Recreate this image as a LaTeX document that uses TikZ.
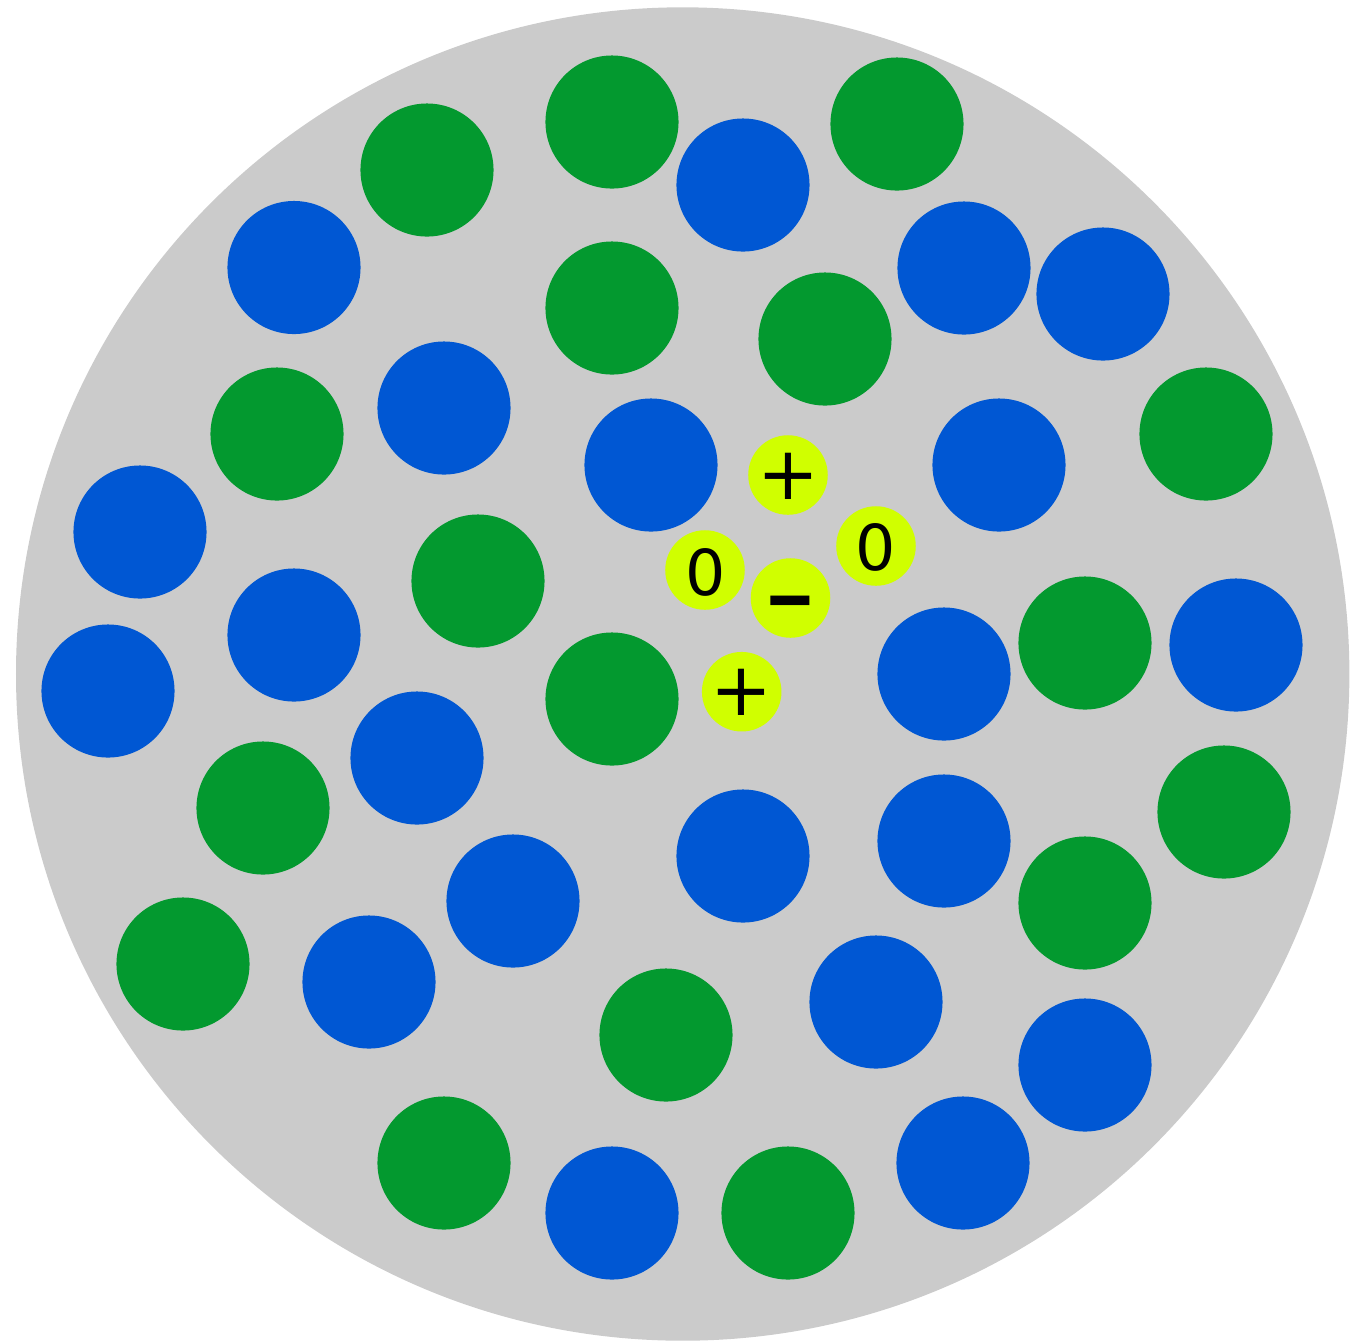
\documentclass[tikz,border=0pt]{standalone}
\usepackage{fontspec}
\usepackage{graphicx}
\setmainfont{DejaVu Sans}
\definecolor{bgray}{HTML}{CBCBCB}
\definecolor{cgreen}{HTML}{03992F}
\definecolor{cblue}{HTML}{0057D3}
\definecolor{cyel}{HTML}{D0FF00}
\begin{document}
\begin{tikzpicture}[x=0.01cm,y=-0.01cm,
  gball/.style={circle,fill=cgreen,draw=none,minimum size=1.33cm,inner sep=0pt},
  bball/.style={circle,fill=cblue,draw=none,minimum size=1.33cm,inner sep=0pt},
  yball/.style={circle,fill=cyel,draw=none,minimum size=0.795cm,inner sep=0pt},
  plustxt/.style={inner sep=0pt,font=\fontsize{21}{21}\selectfont},
  zerotxt/.style={inner sep=0pt,font=\fontsize{18}{18}\selectfont},
  minustxt/.style={inner sep=0pt,anchor=base,font=\fontsize{19.5}{19.5}\selectfont\bfseries}]
\useasboundingbox (0,0) rectangle (1365,1341);
\fill[bgray] (682.7,674) circle[radius=666.7];
% green
\foreach \x/\y [count=\i] in {427/170,612/122,897/124,612/308,825/339,277/434,1206/434,478/581,612/699,1085/643,263/808,1224/812,1085/903,183/964,666/1035,444/1163,788/1213}
  \node[gball] (g\i) at (\x,\y) {};
% blue
\foreach \x/\y [count=\i] in {294/267.5,743/185,964/268,1103/294,444/408,651/465,999/465,140/532,294/635,108/691,944/674,1236/645,417/758,743/856,944/841,513/901,369/982,876/1002,1085/1065,963/1163,612/1213}
  \node[bball] (b\i) at (\x,\y) {};
% yellow
\node[yball] (y1) at (788,475) {};
\node[yball] (y2) at (705,570) {};
\node[yball] (y3) at (790.5,598) {};
\node[yball] (y4) at (876,546) {};
\node[yball] (y5) at (741.7,691.7) {};
\node[plustxt] (t1) at (788,476.5) {+};
\node[zerotxt] (t2) at (705.4,572.5) {0};
\node[minustxt] (t3) at (790.5,621) {\scalebox{1.45}[1.1]{–}};
\node[zerotxt] (t4) at (876,547.5) {0};
\node[plustxt] (t5) at (741.7,692) {+};
\end{tikzpicture}
\end{document}
